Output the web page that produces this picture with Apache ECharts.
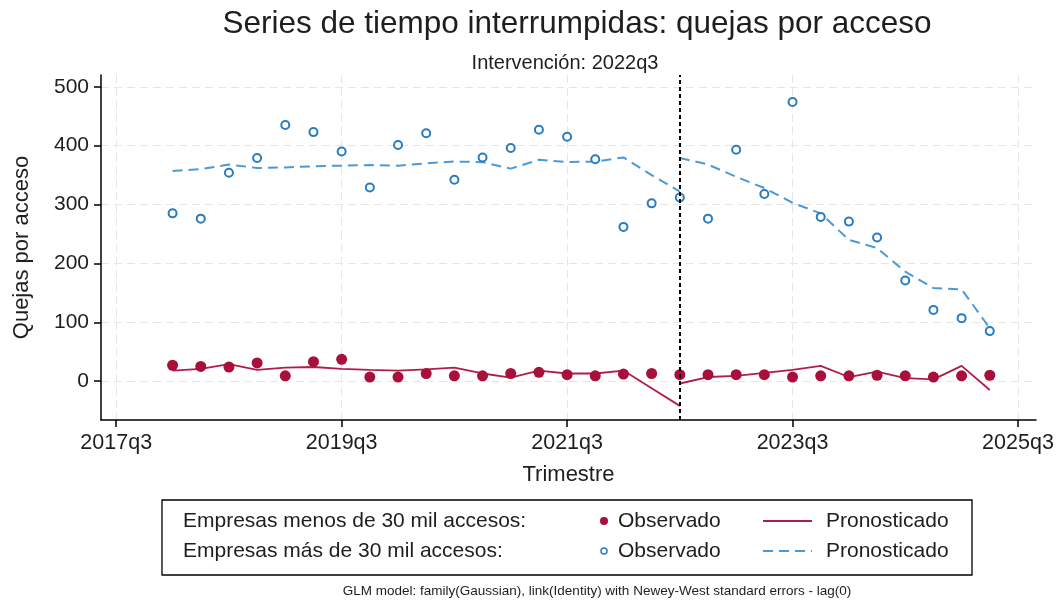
<!DOCTYPE html>
<html>
<head>
<meta charset="utf-8">
<script src="https://cdn.jsdelivr.net/npm/echarts@6/dist/echarts.min.js"></script>
<style>
html,body{margin:0;padding:0;background:#fff;}
#chart{width:1061px;height:604px;}
</style>
</head>
<body>
<div id="chart"></div>
<script>
// ---- Data ----
const quarters = ['2018q1','2018q2','2018q3','2018q4','2019q1','2019q2','2019q3','2019q4',
  '2020q1','2020q2','2020q3','2020q4','2021q1','2021q2','2021q3','2021q4',
  '2022q1','2022q2','2022q3','2022q4','2023q1','2023q2','2023q3','2023q4',
  '2024q1','2024q2','2024q3','2024q4','2025q1','2025q2'];
const interventionQuarter = '2022q3';
const tickLabels = ['2017q3','2019q3','2021q3','2023q3','2025q3'];
const yTicks = [0,100,200,300,400,500];

// Empresas menos de 30 mil accesos
const smallObs = [27,25,24,31,9,33,37,7,7,13,9,9,13,15,11,9,12,13,11,11,11,11,7,9,9,10,9,7,9,10];
const smallPredPre = [18,21,29,19,23,24,21,19,18,20,23,13,6,18,13,13,18,-12,-42];      // 2018q1..2022q3
const smallPredPost = [-4,7,9,14,19,26,7,16,5,3,26,-15];                               // 2022q3..2025q2

// Empresas más de 30 mil accesos
const bigObs = [285,276,354,379,435,423,390,329,401,421,342,380,396,427,415,377,262,302,312,276,393,318,474,279,271,244,171,121,107,85];
const bigPredPre = [357,360,368,362,363,365,366,367,366,370,373,372,361,376,372,373,380,350,322];
const bigPredPost = [379,368,347,328,303,285,240,226,186,158,156,90];

// ---- Helpers ----
function qIndex(s){ const y=parseInt(s.slice(0,4),10), q=parseInt(s.slice(5),10); return (y-2017)*4+(q-3); }
const xs = quarters.map(qIndex);
const ivIdx = quarters.indexOf(interventionQuarter);
const preQ = quarters.slice(0, ivIdx+1);
const postQ = quarters.slice(ivIdx);
const pair = (qs, vals) => qs.map((q,i)=>[qIndex(q), vals[i]]);
const tickPos = tickLabels.map(qIndex);

const RED='#a80f3b', REDL='#b01e48', BLUE='#2a7cc0', BLUEL='#4a9ad8';
const FONT='"Liberation Sans", Arial, sans-serif';
const TXT='#1e1e1e';

const chart = echarts.init(document.getElementById('chart'), null, {renderer:'canvas'});
const option = {
  backgroundColor:'#fff',
  animation:false,
  textStyle:{fontFamily:FONT},
  title:[
    {text:'Series de tiempo interrumpidas: quejas por acceso', left:572, top:3, textAlign:'center',
     textStyle:{fontSize:31.5, fontWeight:'normal', color:TXT, fontFamily:FONT}},
    {text:'Intervención: 2022q3', left:560, top:48, textAlign:'center',
     textStyle:{fontSize:20, fontWeight:'normal', color:TXT, fontFamily:FONT}}
  ],
  grid:{left:101, right:25, top:75, bottom:184, containLabel:false, outerBoundsMode:'none'},
  xAxis:{
    type:'value', min:-0.54, max:32.64,
    name:'Trimestre', nameLocation:'middle', nameGap:44,
    nameTextStyle:{fontSize:22, color:TXT, fontFamily:FONT},
    axisLine:{show:true, onZero:false, lineStyle:{color:'#000', width:1.5}},
    axisTick:{show:true, length:7, customValues:tickPos, lineStyle:{color:'#000', width:1.5}},
    axisLabel:{customValues:tickPos, fontSize:21.5, color:TXT, margin:12,
      formatter:v=>{const i=tickPos.indexOf(v); return i>=0?tickLabels[i]:'';}},
    splitLine:{show:true, lineStyle:{color:'#e6e6e6', type:[8,5], width:1}}
  },
  yAxis:{
    type:'value', min:-66, max:520,
    name:'Quejas por acceso', nameLocation:'middle', nameGap:68, nameRotate:90,
    nameTextStyle:{fontSize:22, color:TXT, fontFamily:FONT},
    axisLine:{show:true, onZero:false, lineStyle:{color:'#000', width:1.5}},
    axisTick:{show:true, length:7, customValues:yTicks, lineStyle:{color:'#000', width:1.5}},
    axisLabel:{customValues:yTicks, fontSize:21, color:TXT, margin:12},
    splitLine:{show:true, lineStyle:{color:'#e6e6e6', type:[8,5], width:1}}
  },
  series:[
    {type:'line', name:'smallPre', data:pair(preQ, smallPredPre), showSymbol:false, symbol:'none',
     lineStyle:{color:REDL, width:1.8}, z:3},
    {type:'line', name:'smallPost', data:pair(postQ, smallPredPost), showSymbol:false, symbol:'none',
     lineStyle:{color:REDL, width:1.8}, z:3},
    {type:'line', name:'bigPre', data:pair(preQ, bigPredPre), showSymbol:false, symbol:'none',
     lineStyle:{color:BLUEL, width:2, type:[10,6]}, z:3},
    {type:'line', name:'bigPost', data:pair(postQ, bigPredPost), showSymbol:false, symbol:'none',
     lineStyle:{color:BLUEL, width:2, type:[10,6]}, z:3},
    {type:'scatter', name:'smallObs', data:xs.map((x,i)=>[x, smallObs[i]]), symbol:'circle', symbolSize:11,
     itemStyle:{color:RED, opacity:1}, z:4},
    {type:'scatter', name:'bigObs', data:xs.map((x,i)=>[x, bigObs[i]]), symbol:'circle', symbolSize:8,
     itemStyle:{color:'#fff', borderColor:BLUE, borderWidth:2, opacity:1}, z:4,
     markLine:{silent:true, symbol:['none','none'], label:{show:false},
       lineStyle:{color:'#000', type:[4,3], width:2},
       data:[{xAxis:qIndex(interventionQuarter)}]}}
  ],
  graphic:[
    {type:'rect', shape:{x:162, y:500, width:810, height:75}, style:{fill:'#fff', stroke:'#000', lineWidth:1.3}},
    {type:'text', x:183, y:521, style:{text:'Empresas menos de 30 mil accesos:', fontSize:21, fontFamily:FONT, fill:TXT, textVerticalAlign:'middle'}},
    {type:'text', x:183, y:551, style:{text:'Empresas más de 30 mil accesos:', fontSize:21, fontFamily:FONT, fill:TXT, textVerticalAlign:'middle'}},
    {type:'circle', shape:{cx:604, cy:521, r:4}, style:{fill:RED}},
    {type:'circle', shape:{cx:604, cy:551, r:3}, style:{fill:'#fff', stroke:BLUE, lineWidth:1.5}},
    {type:'text', x:618, y:521, style:{text:'Observado', fontSize:21, fontFamily:FONT, fill:TXT, textVerticalAlign:'middle'}},
    {type:'text', x:618, y:551, style:{text:'Observado', fontSize:21, fontFamily:FONT, fill:TXT, textVerticalAlign:'middle'}},
    {type:'line', shape:{x1:763, y1:521, x2:812, y2:521}, style:{stroke:REDL, lineWidth:1.8}},
    {type:'line', shape:{x1:763, y1:551, x2:812, y2:551}, style:{stroke:BLUEL, lineWidth:2, lineDash:[10,6]}},
    {type:'text', x:826, y:521, style:{text:'Pronosticado', fontSize:21, fontFamily:FONT, fill:TXT, textVerticalAlign:'middle'}},
    {type:'text', x:826, y:551, style:{text:'Pronosticado', fontSize:21, fontFamily:FONT, fill:TXT, textVerticalAlign:'middle'}},
    {type:'text', x:597, y:591, style:{text:'GLM model: family(Gaussian), link(Identity) with Newey-West standard errors - lag(0)', fontSize:13.5, fontFamily:FONT, fill:TXT, textAlign:'center', textVerticalAlign:'middle'}}
  ]
};
chart.setOption(option);
</script>
</body>
</html>
